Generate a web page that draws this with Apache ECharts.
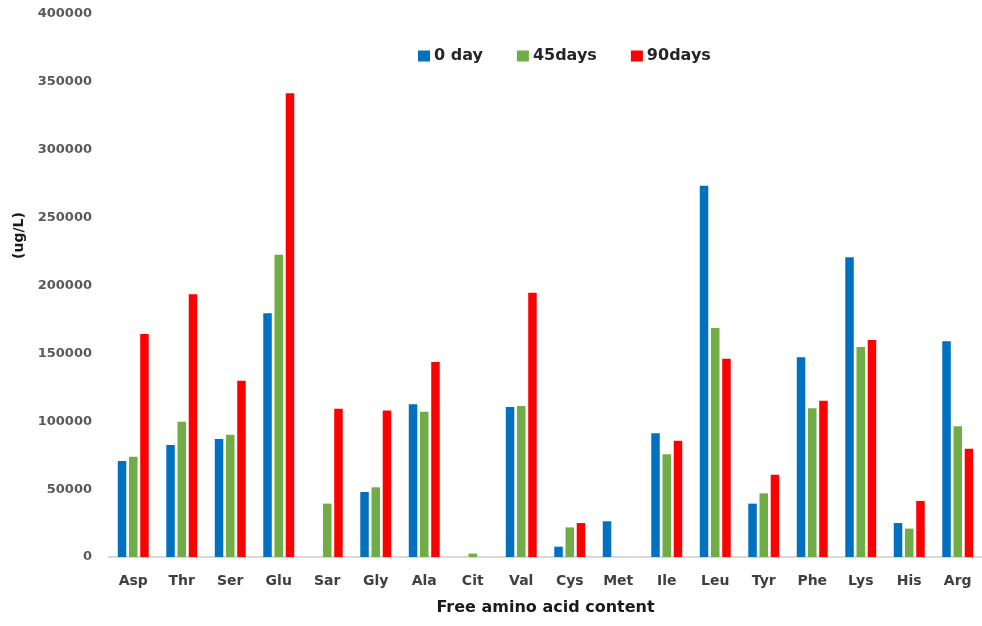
<!DOCTYPE html>
<html>
<head>
<meta charset="utf-8">
<script src="https://cdn.jsdelivr.net/npm/echarts@6/dist/echarts.min.js"></script>
<style>html,body{margin:0;padding:0;background:#fff}#c{width:982px;height:626px}</style>
</head>
<body>
<div id="c"></div>
<script>
const categories = ['Asp','Thr','Ser','Glu','Sar','Gly','Ala','Cit','Val','Cys','Met','Ile','Leu','Tyr','Phe','Lys','His','Arg'];
const day0   = [70700, 82500, 86900, 179500, 0, 47900, 112500, 0, 110500, 7600, 26300, 91100, 273500, 39300, 147100, 220800, 25000, 158900];
const day45  = [73900, 99700, 90100, 222700, 39300, 51300, 107000, 2500, 111200, 21800, 0, 75600, 168700, 46900, 109500, 154700, 20900, 96300];
const day90  = [164300, 193500, 129900, 341600, 109300, 108000, 143600, 0, 194700, 25000, 0, 85700, 146100, 60600, 115100, 159900, 41300, 79800];
const seriesNames = ['0 day', '45days', '90days'];
const yTicks = { min: 0, max: 400000, interval: 50000 };

const font = 'DejaVu Sans';
const chart = echarts.init(document.getElementById('c'));
const mk = (name, data, color) => ({
  name, type: 'bar', data, barWidth: 8.5, barGap: '32%',
  itemStyle: { color }
});
chart.setOption({
  animation: false,
  textStyle: { fontFamily: font },
  legend: {
    left: 413, top: 43, itemWidth: 12, itemHeight: 11, itemGap: 34,
    textStyle: { fontFamily: font, fontSize: 16, fontWeight: 'bold', color: '#262626', padding: [0,0,0,-1] },
    data: seriesNames.map(n => ({ name: n, icon: 'rect' }))
  },
  grid: { left: 109, right: -4, top: 14, bottom: 69 },
  xAxis: {
    type: 'category', data: categories,
    axisLine: { lineStyle: { color: '#D9D9D9', width: 2 } },
    axisTick: { show: false },
    axisLabel: { fontFamily: font, fontSize: 14, fontWeight: 'bold', color: '#404040', margin: 17 },
    name: 'Free amino acid content', nameLocation: 'middle', nameGap: 43,
    nameTextStyle: { fontFamily: font, fontSize: 16, fontWeight: 'bold', color: '#1a1a1a' }
  },
  yAxis: {
    type: 'value', min: yTicks.min, max: yTicks.max, interval: yTicks.interval,
    axisLine: { show: false }, axisTick: { show: false }, splitLine: { show: false },
    axisLabel: { fontFamily: font, fontSize: 13, fontWeight: 'bold', color: '#595959', margin: 17, formatter: v => String(v) },
    name: '(ug/L)', nameLocation: 'middle', nameGap: 80, nameRotate: 90,
    nameTextStyle: { fontFamily: font, fontSize: 14, fontWeight: 'bold', color: '#1a1a1a', padding: [0,0,0,100] }
  },
  series: [mk(seriesNames[0], day0, '#0070C0'), mk(seriesNames[1], day45, '#70AD47'), mk(seriesNames[2], day90, '#FF0000')]
});
</script>
</body>
</html>
